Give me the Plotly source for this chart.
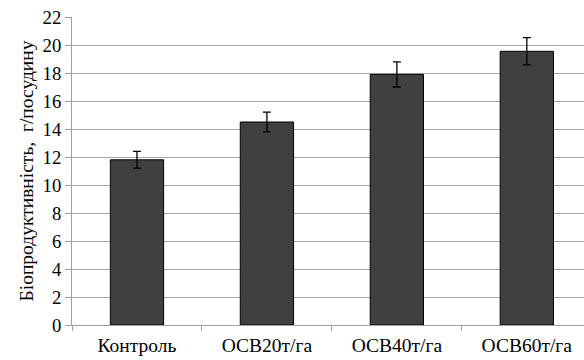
import plotly.graph_objects as go

categories = ["Контроль", "ОСВ20т/га", "ОСВ40т/га", "ОСВ60т/га"]
values = [11.8, 14.5, 17.9, 19.55]
errors = [0.6, 0.7, 0.9, 0.97]
y_ticks = list(range(0, 23, 2))

fig = go.Figure(go.Bar(
    x=categories, y=values,
    width=0.41,
    marker=dict(color="#404040", line=dict(color="#000000", width=1)),
    error_y=dict(type="data", array=errors, visible=True, color="#000000", thickness=1.3, width=4),
))

font_family = "Liberation Serif, Times New Roman, serif"
fig.update_layout(
    width=584, height=360,
    margin=dict(l=72, r=0, t=17, b=35),
    plot_bgcolor="white", paper_bgcolor="white",
    showlegend=False,
    font=dict(family=font_family, color="#000000", size=18.7),
)
fig.update_xaxes(
    range=[-0.5, 3.44],
    automargin=False,
    showline=True, linecolor="#a0a0a0", linewidth=1,
    ticks="outside", tickson="boundaries", ticklen=5, tickcolor="#a0a0a0",
    tickfont=dict(size=19.5, family=font_family),
    ticklabelstandoff=3,
    showgrid=False,
)
fig.update_yaxes(
    range=[0, 22], tickvals=y_ticks,
    automargin=False,
    showline=True, linecolor="#a0a0a0", linewidth=1,
    ticks="outside", ticklen=6, tickcolor="#a0a0a0",
    showgrid=True, gridcolor="#a6a6a6", gridwidth=1,
    zeroline=False,
    tickfont=dict(size=18.7, family=font_family),
    title=dict(text="Біопродуктивність,  г/посудину", font=dict(size=19.5, family=font_family), standoff=3),
)
fig.write_html("out.html", post_script="document.body.style.margin='0';",
               config={"displayModeBar": False})
